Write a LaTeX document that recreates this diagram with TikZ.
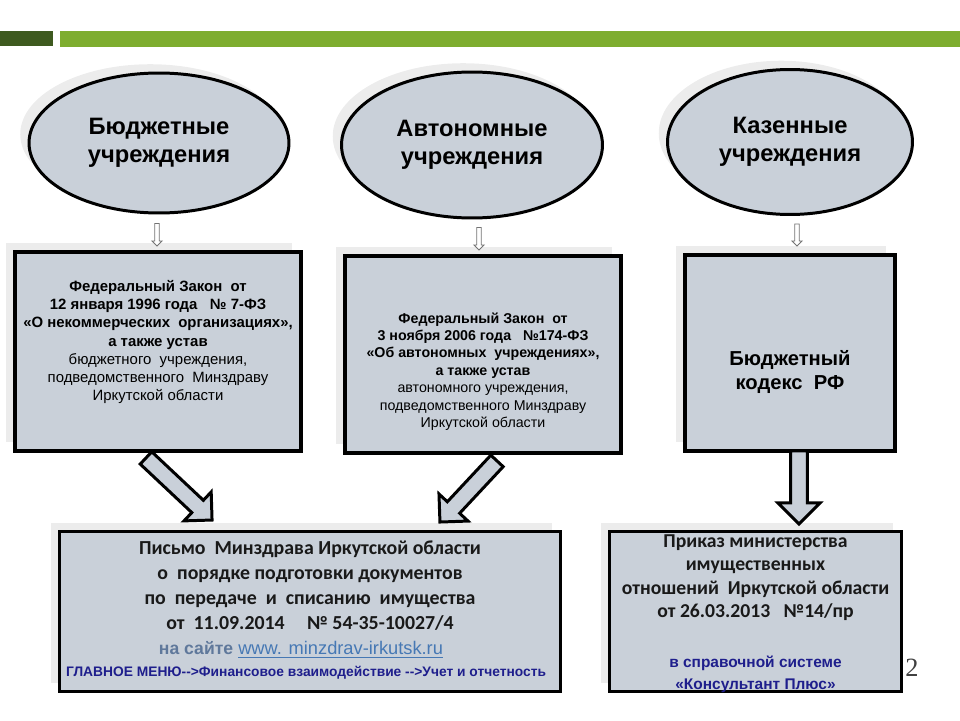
\documentclass[tikz,border=0pt]{standalone}
\usepackage{fontspec}
\setmainfont{Liberation Sans}
\newfontfamily\calibfont{Carlito}
\newfontfamily\numfont{Liberation Serif}
\usepackage{tikz}
\usetikzlibrary{positioning,shapes.geometric,calc,shadows}
\definecolor{bardark}{RGB}{62,90,31}
\definecolor{barlight}{RGB}{126,173,47}
\definecolor{boxgrey}{RGB}{201,208,217}
\definecolor{shadegrey}{RGB}{236,236,236}
\definecolor{linkblue}{RGB}{70,120,180}
\definecolor{sitegrey}{RGB}{95,120,155}
\definecolor{menublue}{RGB}{30,30,140}

% block arrow from #2 (tail) to #3 (tip), half shaft #4, half head #5
\newcommand{\hollowarrow}[5]{%
  \coordinate (ha-h) at ($(#3)!#5!(#2)$);
  \draw[#1] ($(#2)!#4!90:(#3)$) -- ($(ha-h)!#4!90:(#3)$) -- ($(ha-h)!#5!90:(#3)$) -- (#3)
    -- ($(ha-h)!#5!-90:(#3)$) -- ($(ha-h)!#4!-90:(#3)$) -- ($(#2)!#4!-90:(#3)$) -- cycle;}

\begin{document}
\begin{tikzpicture}[
    x=0.02cm, y=-0.02cm,
    shade/.style={drop shadow={fill=shadegrey, opacity=1, shadow xshift=-5pt, shadow yshift=5pt}},
    inst/.style={ellipse, draw=black, line width=1.7pt, fill=boxgrey, shade, minimum width=5.2cm, minimum height=2.8cm, align=center, font=\bfseries\fontsize{13.5}{16}\selectfont},
    lawbox/.style={rectangle, draw=black, line width=2.2pt, fill=boxgrey, shade},
    docbox/.style={rectangle, draw=black, line width=1.7pt, fill=boxgrey, shade, minimum height=3.2cm},
    lawtext/.style={align=center, font=\bfseries\fontsize{8.5}{10.4}\selectfont},
    doctext/.style={align=center, font=\calibfont\bfseries\fontsize{11.3}{14.2}\selectfont, text=black!90},
    bigarrow/.style={draw=black, line width=1.7pt, fill=boxgrey, line join=miter},
    thinarrow/.style={draw=black!55, line width=0.5pt, fill=white, line join=miter}
]
\useasboundingbox (0,0) rectangle (960,720);

% Title bars
\fill[bardark] (0,31) rectangle (53,46);
\fill[barlight] (60,31) rectangle (960,47);

% Types of institutions
\node[inst] (budget) at (159,143) {Бюджетные\\учреждения};
\node[inst, minimum width=5.22cm, minimum height=2.92cm] (auton) at (472,145) {Автономные\\учреждения};
\node[inst, minimum width=4.9cm, minimum height=2.9cm] (kazen) at (790,142) {Казенные\\учреждения};

% Laws
\node[lawbox, minimum width=5.72cm, minimum height=3.98cm] (lawB) at (158,351.5) {};
\node[lawbox, minimum width=5.52cm, minimum height=3.94cm] (lawA) at (483,354.5) {};
\node[lawbox, minimum width=4.2cm, minimum height=3.92cm] (lawK) at (790,353) {};

\node[lawtext] (lawBtxt) at ($(lawB)+(0,-9.5)$) {Федеральный\ Закон\ \ от\\
  12 января\ 1996\ года\ \ \ № 7-ФЗ\\
  «О некоммерческих\ \ организациях»,\\
  а также устав\\
  \mdseries бюджетного\ \ учреждения,\\
  \mdseries подведомственного\ \ Минздраву\\
  \mdseries Иркутской области};
\node[lawtext, font=\bfseries\fontsize{8.1}{9.9}\selectfont] (lawAtxt) at ($(lawA)+(0,17)$) {Федеральный Закон\ \ от\\
  3 ноября 2006 года\ \ \ №174-ФЗ\\
  «Об автономных\ \ учреждениях»,\\
  а также устав\\
  \mdseries автономного учреждения,\\
  \mdseries подведомственного Минздраву\\
  \mdseries Иркутской области};
\node[lawtext, font=\bfseries\fontsize{11.5}{14.2}\selectfont] (lawKtxt) at ($(lawK)+(0,19)$) {Бюджетный\\кодекс\ \ РФ};

% Documents
\node[docbox, minimum width=10.02cm] (letter) at (310,611.5) {};
\node[docbox, minimum width=5.84cm] (order) at (755.5,611.5) {};

\node[doctext] (lettertxt) at ($(letter)+(0,-26)$) {Письмо\ \ Минздрава Иркутской области\\
  о\ \ порядке подготовки документов\\
  по\ \ передаче\ \ и\ \ списанию\ \ имущества\\
  от\ \ 11.09.2014\ \ \ \ \ № 54-35-10027/4};
\node[font=\fontsize{10.4}{12}\selectfont] (site) at ($(letter)+(-9,38.5)$)
  {\textcolor{sitegrey}{\bfseries\fontsize{10}{11}\selectfont на сайте}\ \textcolor{linkblue}{\underline{www. minzdrav-irkutsk.ru}}};
\node[font=\bfseries\fontsize{7.85}{9}\selectfont, text=menublue] (menu) at ($(letter)+(-4,61.5)$)
  {ГЛАВНОЕ МЕНЮ-{}->Финансовое взаимодействие -{}->Учет и отчетность};

\node[doctext, font=\calibfont\bfseries\fontsize{11.2}{13.4}\selectfont] (ordertxt) at ($(order)+(0,-34)$) {Приказ министерства\\
  имущественных\\
  отношений\ \ Иркутской области\\
  от 26.03.2013\ \ \ №14/пр};
\node[align=center, font=\bfseries\fontsize{8.8}{12.5}\selectfont, text=menublue] (consult) at ($(order)+(0,62.5)$)
  {в справочной системе\\«Консультант Плюс»};

% Slide number
\node[font=\numfont\fontsize{15}{15}\selectfont, text=black!75] (pagenum) at (912,668) {2};

% Thin arrows: institution to law
\coordinate (s1a) at ($(budget.south)+(-2,9)$);
\coordinate (s1b) at ($(lawB.north)+(-1,-4)$);
\coordinate (s2a) at ($(auton.south)+(7,8)$);
\coordinate (s2b) at ($(lawA.north)+(-4,-4)$);
\coordinate (s3a) at ($(kazen.south)+(7,8)$);
\coordinate (s3b) at ($(lawK.north)+(7,-7)$);
\hollowarrow{thinarrow}{s1a}{s1b}{1.3pt}{2.9pt}
\hollowarrow{thinarrow}{s2a}{s2b}{1.3pt}{2.9pt}
\hollowarrow{thinarrow}{s3a}{s3b}{1.3pt}{2.9pt}

% Block arrows: law to documents
\coordinate (a1a) at ($(lawB.south)+(-12,5)$);
\coordinate (a1b) at ($(letter.north west)+(154,-10)$);
\coordinate (a2a) at ($(lawA.south)+(14,6)$);
\coordinate (a2b) at ($(letter.north east)+(-122,-8)$);
\coordinate (a3a) at ($(lawK.south)+(9,-2)$);
\coordinate (a3b) at ($(order.north)+(43.5,-6)$);
\hollowarrow{bigarrow}{a1a}{a1b}{4.8pt}{11.3pt}
\hollowarrow{bigarrow}{a2a}{a2b}{4.8pt}{11.3pt}
\hollowarrow{bigarrow}{a3a}{a3b}{4.8pt}{12pt}

\end{tikzpicture}
\end{document}
